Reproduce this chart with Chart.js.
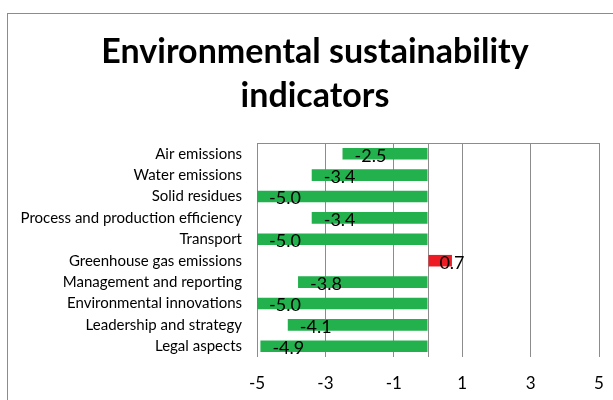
<!DOCTYPE html>
<html>
<head>
<meta charset="utf-8">
<script src="https://cdn.jsdelivr.net/npm/chart.js@4"></script>
<style>
  html, body { margin: 0; padding: 0; background: #fff; overflow: hidden; }
  #box {
    position: absolute; left: 7px; top: 13px;
    width: 614px; height: 400px;
    border: 1px solid #8c8c8c;
  }
  canvas { display: block; }
</style>
</head>
<body>
<div id="box"><canvas id="chart" width="614" height="386"></canvas></div>
<script>
const categories = [
  'Air emissions',
  'Water emissions',
  'Solid residues',
  'Process and production efficiency',
  'Transport',
  'Greenhouse gas emissions',
  'Management and reporting',
  'Environmental innovations',
  'Leadership and strategy',
  'Legal aspects',
];
const scores = [-2.5, -3.4, -5.0, -3.4, -5.0, 0.7, -3.8, -5.0, -4.1, -4.9];
const xTicks = [-5, -3, -1, 0, 1, 3, 5];

const GREEN = '#22b14c';
const RED = '#ed1c24';
const GRID = '#8c8c8c';

Chart.defaults.font.family = 'Lato, "Open Sans", sans-serif';
Chart.defaults.color = '#000';

// value labels + top edge line of the plot area
const barLabels = {
  id: 'barLabels',
  afterDatasetsDraw(chart) {
    const ctx = chart.ctx;
    const area = chart.chartArea;
    ctx.save();
    ctx.strokeStyle = GRID;
    ctx.lineWidth = 1;
    ctx.beginPath();
    ctx.moveTo(area.left, area.top + 0.5);
    ctx.lineTo(area.right, area.top + 0.5);
    ctx.stroke();

    ctx.font = '18px Lato, "Open Sans", sans-serif';
    ctx.fillStyle = '#000';
    ctx.textBaseline = 'middle';
    const meta = chart.getDatasetMeta(0);
    meta.data.forEach((bar, i) => {
      const v = scores[i];
      if (v < 0) {
        ctx.textAlign = 'left';
        ctx.fillText(v.toFixed(1), bar.x + 12, bar.y + 2);
      } else {
        ctx.textAlign = 'center';
        ctx.fillText(v.toFixed(1), bar.x, bar.y + 2);
      }
    });
    ctx.restore();
  },
};

new Chart(document.getElementById('chart'), {
  type: 'bar',
  data: {
    labels: categories,
    datasets: [{
      data: scores,
      backgroundColor: scores.map(v => (v < 0 ? GREEN : RED)),
      barPercentage: 0.54,
      categoryPercentage: 1,
    }],
  },
  options: {
    indexAxis: 'y',
    responsive: false,
    animation: false,
    layout: { padding: 0 },
    plugins: {
      legend: { display: false },
      tooltip: { enabled: false },
      title: {
        display: true,
        text: ['Environmental sustainability', 'indicators'],
        font: { size: 34, weight: 'bold', lineHeight: 44 / 34 },
        color: '#000',
        padding: { top: 16, bottom: 25 },
      },
    },
    scales: {
      x: {
        min: -5,
        max: 5,
        afterBuildTicks(scale) {
          scale.ticks = xTicks.map(v => ({ value: v }));
        },
        afterFit(scale) { scale.height = 43; },
        ticks: {
          font: { size: 17 },
          padding: 16,
          maxRotation: 0,
          callback: v => (v === 0 ? '' : String(v)),
        },
        grid: { color: GRID, lineWidth: 1, drawTicks: false },
        border: { display: false },
      },
      y: {
        afterFit(scale) { scale.width = 249; },
        ticks: { font: { size: 15 }, padding: 7 },
        grid: { display: false },
        border: { display: false },
      },
      // empty right-hand spacer so the title stays centred on the whole box
      spacer: {
        type: 'linear',
        position: 'right',
        afterFit(scale) { scale.width = 23; },
        ticks: { display: false },
        grid: { display: false },
        border: { display: false },
      },
    },
  },
  plugins: [barLabels],
});
</script>
</body>
</html>
